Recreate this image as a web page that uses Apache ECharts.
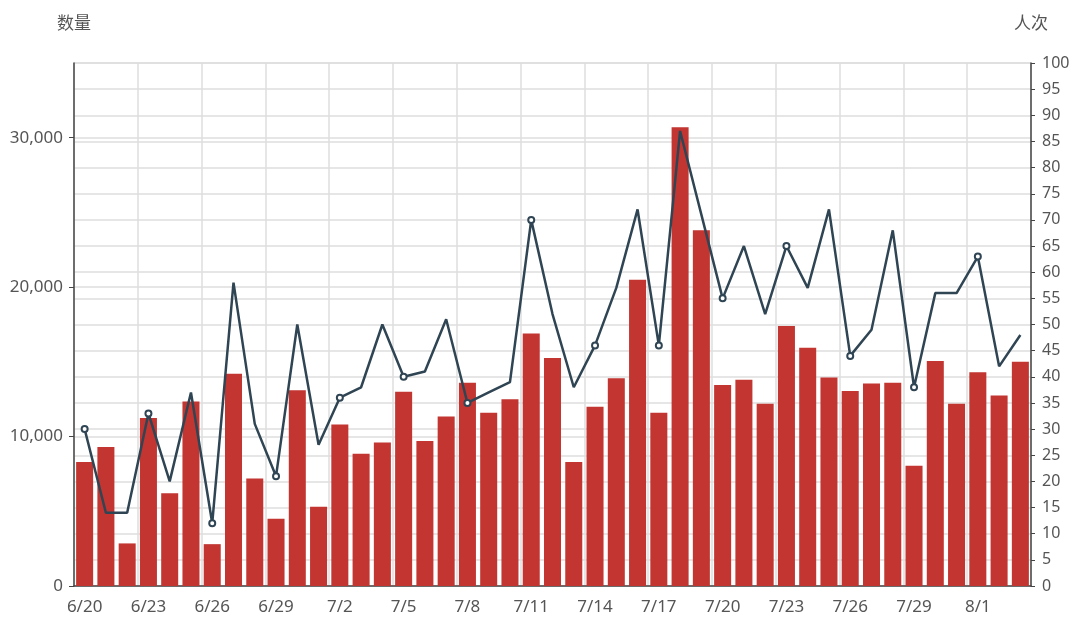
<!DOCTYPE html>
<html>
<head>
<meta charset="utf-8">
<script src="https://cdn.jsdelivr.net/npm/echarts@6/dist/echarts.min.js"></script>
<style>
html,body{margin:0;padding:0;background:#fff;}
#chart{width:1075px;height:625px;}
</style>
</head>
<body>
<div id="chart"></div>
<script>
const categories = ['6/20','6/21','6/22','6/23','6/24','6/25','6/26','6/27','6/28','6/29','6/30',
  '7/1','7/2','7/3','7/4','7/5','7/6','7/7','7/8','7/9','7/10','7/11','7/12','7/13','7/14','7/15',
  '7/16','7/17','7/18','7/19','7/20','7/21','7/22','7/23','7/24','7/25','7/26','7/27','7/28','7/29',
  '7/30','7/31','8/1','8/2','8/3'];
const quantityValues = [8300,9300,2850,11250,6200,12350,2800,14200,7200,4500,13100,
  5300,10800,8850,9600,13000,9700,11350,13600,11600,12500,16900,15250,8300,12000,13900,
  20500,11600,30700,23800,13450,13800,12200,17400,15950,13950,13050,13550,13600,8050,
  15050,12200,14300,12750,15000];
const visitorValues = [30,14,14,33,20,37,12,58,31,21,50,
  27,36,38,50,40,41,51,35,37,39,70,52,38,46,57,
  72,46,87,71,55,65,52,65,57,72,44,49,68,38,
  56,56,63,42,48];
const leftAxisName = '数量';
const rightAxisName = '人次';

const fontFamily = '"Noto Sans", "Noto Sans CJK SC", sans-serif';
const chart = echarts.init(document.getElementById('chart'));
chart.setOption({
  animation: false,
  textStyle: { fontFamily: fontFamily },
  grid: { left: 74, right: 44, top: 63, bottom: 39 },
  xAxis: {
    type: 'category',
    data: categories,
    boundaryGap: true,
    axisLine: { lineStyle: { color: '#444', width: 1.5 } },
    axisTick: { interval: 2, length: 5, lineStyle: { color: '#444' } },
    axisLabel: { interval: 2, color: '#555', fontSize: 17, margin: 13, fontFamily: fontFamily },
    splitLine: { show: true, interval: 2, lineStyle: { color: '#dedede', width: 1.5 } }
  },
  yAxis: [
    {
      type: 'value',
      name: leftAxisName,
      nameGap: 30,
      nameTextStyle: { color: '#555', fontSize: 17, fontFamily: fontFamily },
      min: 0, max: 35000, interval: 10000,
      axisLine: { show: true, lineStyle: { color: '#444', width: 1.5 } },
      axisTick: { show: true, length: 5, lineStyle: { color: '#444' } },
      axisLabel: { color: '#555', fontSize: 17, margin: 11, showMaxLabel: false, fontFamily: fontFamily },
      splitLine: { show: true, lineStyle: { color: '#dedede', width: 1.5 } }
    },
    {
      type: 'value',
      name: rightAxisName,
      nameGap: 30,
      nameTextStyle: { color: '#555', fontSize: 17, fontFamily: fontFamily },
      min: 0, max: 100, interval: 5,
      axisLine: { show: true, lineStyle: { color: '#444', width: 1.5 } },
      axisTick: { show: true, length: 4, lineStyle: { color: '#444' } },
      axisLabel: { color: '#555', fontSize: 16, margin: 11, fontFamily: fontFamily },
      splitLine: { show: true, lineStyle: { color: '#dedede', width: 1.5 } }
    }
  ],
  series: [
    {
      type: 'bar',
      name: leftAxisName,
      yAxisIndex: 0,
      data: quantityValues,
      barCategoryGap: '20%',
      itemStyle: { color: '#c23531' }
    },
    {
      type: 'line',
      name: rightAxisName,
      yAxisIndex: 1,
      data: visitorValues,
      showSymbol: true,
      showAllSymbol: false,
      symbol: 'emptyCircle',
      symbolSize: 6,
      lineStyle: { color: '#2f4554', width: 2.5 },
      itemStyle: { color: '#2f4554', borderWidth: 1.5 }
    }
  ]
});
</script>
</body>
</html>
